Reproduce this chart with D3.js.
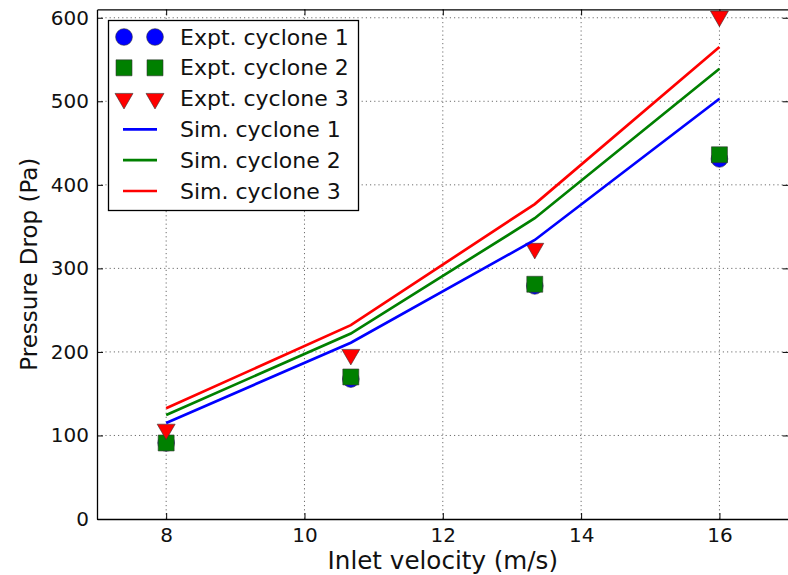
<!DOCTYPE html>
<html>
<head>
<meta charset="utf-8">
<script src="https://cdn.jsdelivr.net/npm/d3@7"></script>
<style>
  body { margin: 0; background: #fff; }
  svg { display: block; font-family: "DejaVu Sans", sans-serif; }
  .grid line { stroke: #6e6e6e; stroke-width: 1; stroke-dasharray: 1.2,3; }
</style>
</head>
<body>
<svg width="788" height="575"></svg>
<script>
// values
var velocity = [8, 10.67, 13.33, 16];
var exptCyclone1 = [91, 167.5, 279, 431];
var exptCyclone2 = [91, 170, 281, 436];
var exptCyclone3 = [105.5, 195, 322, 600];
var simCyclone1 = [115, 211, 334, 503];
var simCyclone2 = [124.5, 222, 360, 539];
var simCyclone3 = [132.5, 232, 377, 565];
var xTicks = [8, 10, 12, 14, 16];
var yTicks = [0, 100, 200, 300, 400, 500, 600];

var svg = d3.select("svg"),
    plotLeft = 97, plotRight = 788.6, plotTop = 9.4, plotBottom = 519;

var x = d3.scaleLinear().domain([7, 17]).range([plotLeft, plotRight]),
    y = d3.scaleLinear().domain([0, 610]).range([plotBottom, plotTop]);

// dotted grid
var grid = svg.append("g").attr("class", "grid");
grid.selectAll(".gx").data(xTicks).enter().append("line")
    .attr("x1", function(d) { return x(d); }).attr("x2", function(d) { return x(d); })
    .attr("y1", plotTop).attr("y2", plotBottom);
grid.selectAll(".gy").data(yTicks.slice(1)).enter().append("line")
    .attr("x1", plotLeft).attr("x2", plotRight)
    .attr("y1", function(d) { return y(d); }).attr("y2", function(d) { return y(d); });

// axes, ticks pointing inwards
function styleAxis(g) {
  g.attr("font-size", 20).attr("font-family", null);
  g.select(".domain").attr("stroke", "#000").attr("stroke-width", 1.3);
  g.selectAll(".tick line").attr("stroke", "#000").attr("stroke-width", 1);
  g.selectAll(".tick text").attr("fill", "#111");
}
svg.append("g").attr("transform", "translate(0," + plotBottom + ")")
    .call(d3.axisBottom(x).tickValues(xTicks).tickSizeInner(-6).tickSizeOuter(0).tickPadding(9))
    .call(styleAxis);
svg.append("g").attr("transform", "translate(0," + plotTop + ")")
    .call(d3.axisTop(x).tickValues(xTicks).tickSizeInner(-6).tickSizeOuter(0).tickFormat(""))
    .call(styleAxis);
svg.append("g").attr("transform", "translate(" + plotLeft + ",0)")
    .call(d3.axisLeft(y).tickValues(yTicks).tickSizeInner(-6).tickSizeOuter(0).tickPadding(8))
    .call(styleAxis);
svg.append("g").attr("transform", "translate(" + plotRight + ",0)")
    .call(d3.axisRight(y).tickValues(yTicks).tickSizeInner(-6).tickSizeOuter(0).tickFormat(""))
    .call(styleAxis);

// axis titles
svg.append("text")
    .attr("x", (plotLeft + plotRight) / 2).attr("y", 569)
    .attr("text-anchor", "middle")
    .style("font-size", "24.6px").attr("fill", "#111")
    .text("Inlet velocity (m/s)");
svg.append("text")
    .attr("transform", "translate(37," + (plotTop + plotBottom) / 2 + ") rotate(-90)")
    .attr("text-anchor", "middle")
    .style("font-size", "23px").attr("fill", "#111")
    .text("Pressure Drop (Pa)");

var symCircle = d3.symbol().type(d3.symbolCircle).size(220),
    symSquare = d3.symbol().type(d3.symbolSquare).size(255),
    symTri = d3.symbol().type(d3.symbolTriangle).size(140);

var expt = [
  {name: "Expt. cyclone 1", values: exptCyclone1, color: "#0000ff", sym: symCircle, rot: 0},
  {name: "Expt. cyclone 2", values: exptCyclone2, color: "#008000", sym: symSquare, rot: 0},
  {name: "Expt. cyclone 3", values: exptCyclone3, color: "#ff0000", sym: symTri, rot: 180}
];
var sims = [
  {name: "Sim. cyclone 1", values: simCyclone1, color: "#0000ff"},
  {name: "Sim. cyclone 2", values: simCyclone2, color: "#008000"},
  {name: "Sim. cyclone 3", values: simCyclone3, color: "#ff0000"}
];

var plot = svg.append("g");

expt.forEach(function(s) {
  plot.selectAll(null).data(s.values).enter().append("path")
      .attr("d", s.sym())
      .attr("transform", function(d, i) {
        return "translate(" + x(velocity[i]) + "," + (y(d) + (s.rot ? -1.5 : 0)) + ") rotate(" + s.rot + ")";
      })
      .attr("fill", s.color)
      .attr("stroke", "#333").attr("stroke-width", 0.6);
});

var line = d3.line()
    .x(function(d, i) { return x(velocity[i]); })
    .y(function(d) { return y(d); });

sims.forEach(function(s) {
  plot.append("path")
      .attr("d", line(s.values))
      .attr("fill", "none")
      .attr("stroke", s.color)
      .attr("stroke-width", 2.7);
});

// legend
var legend = svg.append("g");
legend.append("rect")
    .attr("x", 108.5).attr("y", 20.5).attr("width", 250).attr("height", 190)
    .attr("fill", "#fff").attr("stroke", "#000").attr("stroke-width", 1.3);

var rowY = d3.scaleLinear().domain([0, 5]).range([37, 191]);
expt.forEach(function(s, i) {
  [124, 155].forEach(function(mx) {
    legend.append("path")
        .attr("d", s.sym())
        .attr("transform", "translate(" + mx + "," + rowY(i) + ") rotate(" + s.rot + ")")
        .attr("fill", s.color)
        .attr("stroke", "#333").attr("stroke-width", 0.6);
  });
});
sims.forEach(function(s, i) {
  legend.append("line")
      .attr("x1", 123).attr("x2", 157)
      .attr("y1", rowY(i + 3)).attr("y2", rowY(i + 3))
      .attr("stroke", s.color).attr("stroke-width", 2.7);
});
expt.concat(sims).forEach(function(s, i) {
  legend.append("text")
      .attr("x", 180).attr("y", rowY(i) + 7.5)
      .style("font-size", "22px").attr("fill", "#111")
      .text(s.name);
});
</script>
</body>
</html>
